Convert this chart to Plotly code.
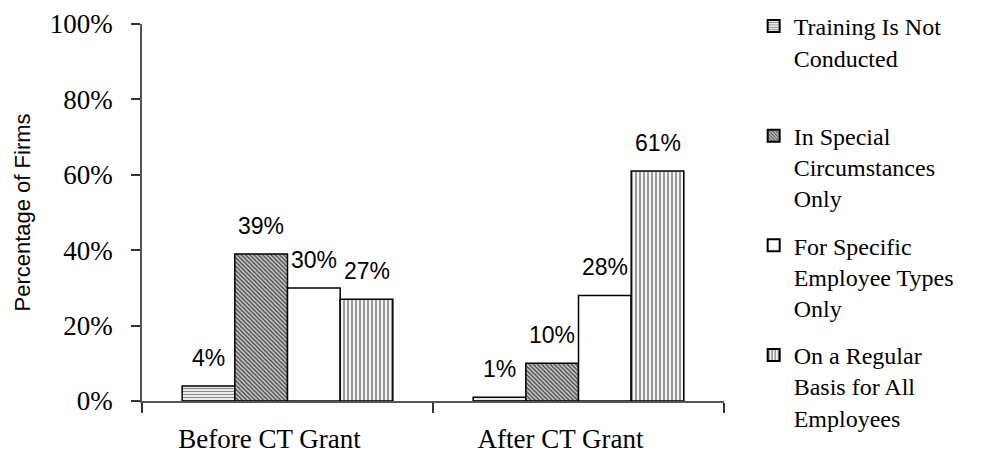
import plotly.graph_objects as go

# Survey results: share of firms by training practice, before and after the grant
periods = ["Before CT Grant", "After CT Grant"]
series_names = [
    "Training Is Not<br>Conducted<br> ",
    "In Special<br>Circumstances<br>Only",
    "For Specific<br>Employee Types<br>Only",
    "On a Regular<br>Basis for All<br>Employees",
]
not_conducted = [4, 1]
special_circumstances = [39, 10]
specific_employee_types = [30, 28]
regular_all_employees = [27, 61]
y_tick_vals = [0, 20, 40, 60, 80, 100]
y_tick_text = ["0%", "20%", "40%", "60%", "80%", "100%"]

series_values = [not_conducted, special_circumstances, specific_employee_types, regular_all_employees]

BARGAP = 0.276

# fill patterns for each series
patterns = [
    dict(shape="-", size=3, solidity=0.45, fgcolor="#8a8a8a", bgcolor="white", fillmode="replace"),
    dict(shape="\\", size=3, solidity=0.4, fgcolor="#404040", bgcolor="#c4c4c4", fillmode="replace"),
    dict(shape="", bgcolor="white"),
    dict(shape="|", size=4, solidity=0.5, fgcolor="#9a9a9a", bgcolor="#f4f4f4", fillmode="replace"),
]

fig = go.Figure()
for i, (name, vals, pat) in enumerate(zip(series_names, series_values, patterns)):
    fig.add_trace(go.Bar(
        x=periods,
        y=vals,
        name=name,
        legendgroup=f"g{i}",
        marker=dict(color="white", pattern=pat, line=dict(color="black", width=1.5)),
    ))

# value labels above each bar, offset to the bar's slot within its group
n_series = len(series_values)
bar_w = (1 - BARGAP) / n_series
for s, vals in enumerate(series_values):
    offset = (s - (n_series - 1) / 2) * bar_w
    for g, v in enumerate(vals):
        fig.add_annotation(
            x=g + offset, y=v, xref="x", yref="y",
            text=f"{v}%", showarrow=False,
            yanchor="bottom", yshift=13,
            font=dict(family="Liberation Sans, Arial", size=23, color="black"),
        )

fig.update_layout(
    width=995,
    height=465,
    barmode="group",
    bargap=BARGAP,
    bargroupgap=0,
    plot_bgcolor="white",
    paper_bgcolor="white",
    margin=dict(l=142, r=271, t=24, b=64, autoexpand=False),
    showlegend=True,
    legend=dict(
        x=1.051, y=1.053, xanchor="left", yanchor="top",
        font=dict(family="Liberation Serif, Times New Roman", size=24, color="black"),
        tracegroupgap=13,
        valign="top",
        maxheight=1,
        itemsizing="constant",
        bgcolor="rgba(0,0,0,0)",
    ),
    font=dict(family="Liberation Serif, Times New Roman", color="black"),
)

fig.update_xaxes(
    showline=True, linecolor="#555555", linewidth=1.5,
    ticks="outside", tickson="boundaries", ticklen=10, tickcolor="#333333", tickwidth=1.5,
    tickfont=dict(family="Liberation Serif, Times New Roman", size=27, color="black"),
    ticklabelstandoff=13,
    ticklabelshift=-18,
    showgrid=False,
)
fig.update_yaxes(
    range=[0, 100],
    tickvals=y_tick_vals, ticktext=y_tick_text,
    showline=True, linecolor="#555555", linewidth=1.5,
    ticks="outside", ticklen=9, tickcolor="#333333", tickwidth=1.5,
    tickfont=dict(family="Liberation Serif, Times New Roman", size=27, color="black"),
    ticklabelstandoff=13,
    showgrid=False, zeroline=False,
    title=dict(text="Percentage of Firms", font=dict(family="Liberation Sans, Arial", size=22, color="black"), standoff=13),
)

fig.write_html("out.html")
